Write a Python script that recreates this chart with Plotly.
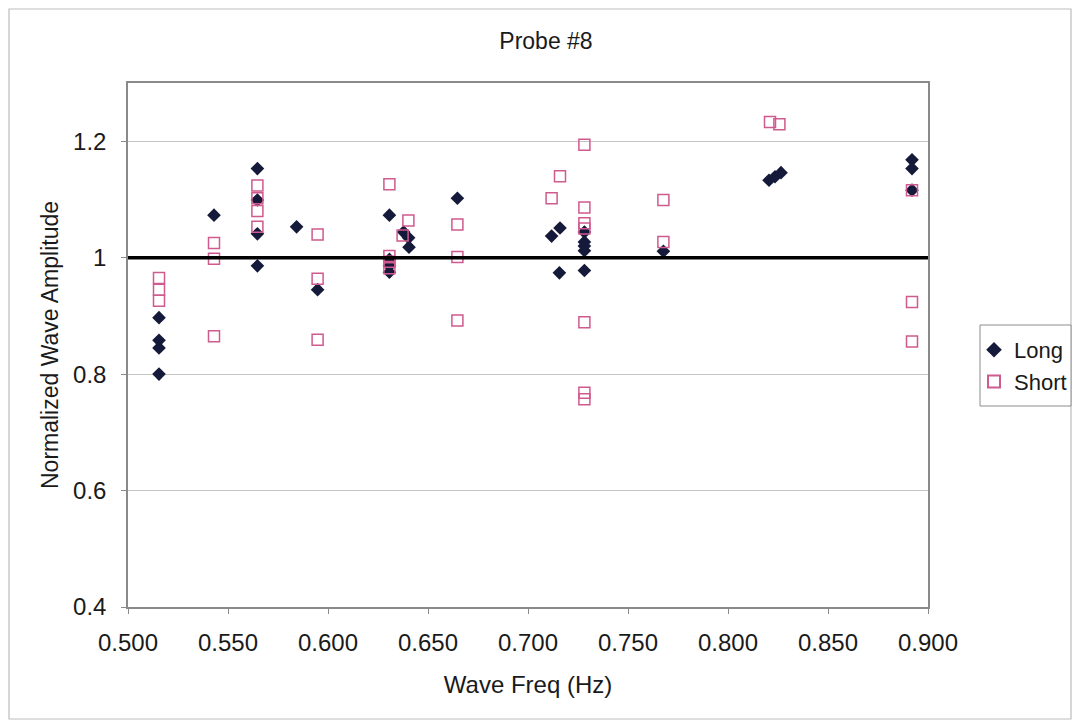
import plotly.graph_objects as go

# ---- data ----
long_x = [0.5155, 0.5155, 0.5155, 0.5155,
          0.5430,
          0.5647, 0.5647, 0.5647, 0.5647,
          0.5843,
          0.5948,
          0.6307, 0.6307, 0.6307, 0.6307,
          0.6378, 0.6403, 0.6405,
          0.6647,
          0.7118, 0.7160, 0.7157,
          0.7282, 0.7282, 0.7282, 0.7282, 0.7282,
          0.7677,
          0.8205, 0.8235, 0.8265,
          0.8920, 0.8920, 0.8920]
long_y = [0.897, 0.858, 0.845, 0.800,
          1.073,
          1.153, 1.099, 1.041, 0.986,
          1.053,
          0.945,
          1.073, 0.997, 0.986, 0.975,
          1.044, 1.034, 1.018,
          1.102,
          1.037, 1.051, 0.974,
          1.044, 1.027, 1.020, 1.012, 0.978,
          1.011,
          1.133, 1.139, 1.146,
          1.168, 1.153, 1.116]

short_x = [0.5155, 0.5155, 0.5155,
           0.5430, 0.5430, 0.5430,
           0.5647, 0.5647, 0.5647, 0.5647,
           0.5948, 0.5948, 0.5948,
           0.6307, 0.6307, 0.6307, 0.6307,
           0.6373, 0.6402,
           0.6647, 0.6647, 0.6647,
           0.7118, 0.7160,
           0.7282, 0.7282, 0.7282, 0.7282, 0.7282, 0.7282, 0.7282,
           0.7677, 0.7677,
           0.8210, 0.8257,
           0.8920, 0.8920, 0.8920]
short_y = [0.965, 0.945, 0.926,
           1.025, 0.998, 0.865,
           1.124, 1.102, 1.080, 1.053,
           1.040, 0.964, 0.859,
           1.126, 1.003, 0.993, 0.982,
           1.038, 1.064,
           1.057, 1.001, 0.892,
           1.102, 1.140,
           1.194, 1.086, 1.059, 1.050, 0.889, 0.768, 0.757,
           1.099, 1.027,
           1.233, 1.229,
           1.116, 0.924, 0.856]

reference_level = 1.0
x_ticks = [0.500, 0.550, 0.600, 0.650, 0.700, 0.750, 0.800, 0.850, 0.900]
y_ticks = [0.4, 0.6, 0.8, 1.0, 1.2]

FONT = "Liberation Sans, Arial, sans-serif"
TXT = "#1a1a1a"

# page body has an 8px default margin: figure drawn at (8, 8), sized to fit
OFF = 8
W, H = 1064, 712
L, T, PW, PH = 128 - OFF, 83 - OFF, 800, 524
R, B = W - L - PW, H - T - PH


def px_x(px):
    return (px - OFF - L) / PW


def px_y(py):
    return (T + PH - (py - OFF)) / PH


fig = go.Figure()
fig.add_trace(go.Scatter(
    x=long_x, y=long_y, mode="markers", name="Long",
    marker=dict(symbol="diamond", size=10.5, color="#151a3a",
                line=dict(width=0)),
))
fig.add_trace(go.Scatter(
    x=short_x, y=short_y, mode="markers", name="Short",
    marker=dict(symbol="square-open", size=11, color="#cf5a8e",
                line=dict(width=1.5, color="#cf5a8e")),
))

# reference line at 1.0
fig.add_shape(type="line", xref="paper", x0=0, x1=1, yref="y",
              y0=reference_level, y1=reference_level,
              line=dict(color="#000000", width=3.5), layer="above")

# outer chart frame
fig.add_shape(type="rect", xref="paper", yref="paper",
              x0=px_x(9), x1=px_x(1071),
              y0=px_y(719), y1=px_y(9),
              line=dict(color="#bdbdbd", width=1.2), layer="below")

# legend box
fig.add_shape(type="rect", xref="paper", yref="paper",
              x0=px_x(980), x1=px_x(1071),
              y0=px_y(406), y1=px_y(325),
              line=dict(color="#8c8c8c", width=1), fillcolor="white",
              layer="below")

fig.update_layout(
    width=W, height=H,
    margin=dict(l=L, r=R, t=T, b=B, autoexpand=False),
    paper_bgcolor="white", plot_bgcolor="white",
    font=dict(family=FONT, size=24, color=TXT),
    title=dict(text="Probe #8", x=px_x(546), xref="paper",
               xanchor="center", y=1 - (41 - OFF) / H, yanchor="middle",
               font=dict(family=FONT, size=23, color=TXT)),
    showlegend=True,
    legend=dict(x=px_x(974), xanchor="left",
                y=px_y(366), yanchor="middle",
                borderwidth=0, bgcolor="rgba(0,0,0,0)",
                font=dict(family=FONT, size=22, color=TXT),
                itemsizing="constant", itemwidth=30, tracegroupgap=2),
)

fig.update_xaxes(
    range=[0.5, 0.9], tickvals=x_ticks, tickformat=".3f",
    showgrid=False, zeroline=False,
    showline=True, linecolor="#8a8a8a", linewidth=1.5, mirror=True,
    ticks="outside", ticklen=5, tickcolor="#8a8a8a",
    ticklabelstandoff=8,
    tickfont=dict(family=FONT, size=24, color=TXT),
    title=dict(text="Wave Freq (Hz)", standoff=22,
               font=dict(family=FONT, size=24, color=TXT)),
)
fig.update_yaxes(
    range=[0.4, 1.3], tickvals=y_ticks,
    showgrid=True, gridcolor="#c4c4c4", gridwidth=1, zeroline=False,
    showline=True, linecolor="#8a8a8a", linewidth=1.5, mirror=True,
    ticks="outside", ticklen=5, tickcolor="#8a8a8a",
    ticklabelstandoff=10,
    tickfont=dict(family=FONT, size=24, color=TXT),
    title=dict(text="Normalized Wave Amplitude", standoff=8,
               font=dict(family=FONT, size=23, color=TXT)),
)

fig.write_html("out.html")
